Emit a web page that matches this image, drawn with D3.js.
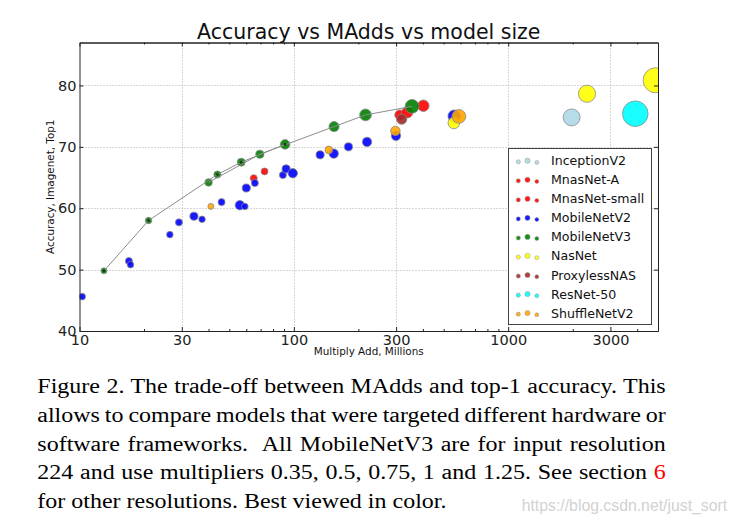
<!DOCTYPE html>
<html><head><meta charset="utf-8">
<script src="https://cdn.jsdelivr.net/npm/d3@7"></script>
<style>
body{margin:0;background:#fff;}
svg{display:block;}
</style>
</head><body>
<svg id="c" width="736" height="523"></svg>
<script>
// ---------- data ----------
const seriesNames  = ["InceptionV2","MnasNet-A","MnasNet-small","MobileNetV2","MobileNetV3","NasNet","ProxylessNAS","ResNet-50","ShuffleNetV2"];
const seriesColors = ["#add8e6","#ff0000","#ff0000","#0000ff","#008000","#ffff00","#a52a2a","#00ffff","#ffa500"];

const inceptionMadds = [1977];
const inceptionTop1  = [74.8];
const inceptionParams= [11.2];

const mnasAMadds  = [312, 338, 402];
const mnasATop1   = [75.2, 75.6, 76.7];
const mnasAParams = [3.9, 4.8, 5.2];

const mnasSmallMadds  = [65, 73];
const mnasSmallTop1   = [64.9, 66.0];
const mnasSmallParams = [1.9, 1.9];

const mbv2Madds  = [10.3, 17.0, 17.3, 26.4, 29.1, 34.2, 37.3, 46.0, 56.0, 59.1, 60.0, 65.8, 88.9, 92.0, 98.9, 132.6, 153.5, 179.8, 219.5, 299.6, 560];
const mbv2Top1   = [45.6, 51.4, 50.8, 55.7, 57.7, 58.7, 58.2, 61.0, 60.5, 60.3, 63.3, 64.1, 65.4, 66.4, 65.7, 68.7, 68.9, 70.0, 70.8, 71.8, 75.0];
const mbv2Params = [1.66, 1.95, 1.66, 1.66, 1.95, 2.61, 1.66, 1.95, 3.47, 1.66, 2.61, 1.95, 1.95, 2.61, 3.47, 2.61, 3.47, 2.61, 3.47, 3.47, 6.06];

const v3LargeMadds  = [40, 69.4, 154, 216, 356];
const v3LargeTop1   = [64.2, 68.8, 73.3, 75.2, 76.6];
const v3LargeParams = [2.2, 2.6, 4.0, 5.4, 7.5];
const v3SmallMadds  = [13, 21, 44, 56.8, 91];
const v3SmallTop1   = [49.8, 58.0, 65.5, 67.5, 70.4];
const v3SmallParams = [1.4, 1.6, 2.0, 2.5, 3.6];

const nasMadds  = [558, 2333, 4875];
const nasTop1   = [73.9, 78.65, 80.85];
const nasParams = [5.3, 11.5, 24.5];

const proxylessMadds  = [318.5];
const proxylessTop1   = [74.5];
const proxylessParams = [4.1];

const resnetMadds  = [3918];
const resnetTop1   = [75.4];
const resnetParams = [25.6];

const shuffleMadds  = [41, 145.5, 297.7, 589];
const shuffleTop1   = [60.3, 69.5, 72.6, 74.96];
const shuffleParams = [1.4, 2.3, 3.5, 7.4];

const xTickValues = [10, 30, 100, 300, 1000, 3000];
const yTickValues = [40, 50, 60, 70, 80];

const titleText  = "Accuracy vs MAdds vs model size";
const xLabelText = "Multiply Add, Millions";
const yLabelText = "Accuracy, Imagenet, Top1";

const captionLines = [
  "Figure 2. The trade-off between MAdds and top-1 accuracy. This",
  "allows to compare models that were targeted different hardware or",
  "software frameworks.  All MobileNetV3 are for input resolution",
  "224 and use multipliers 0.35, 0.5, 0.75, 1 and 1.25. See section 6",
  "for other resolutions. Best viewed in color."
];
const captionRef = "6";
const watermarkText = "https://blog.csdn.net/just_sort";

// ---------- build table ----------
function pts(m, t, p){ return m.map((d,i)=>({madds:d, top1:t[i], params:p[i]})); }
const seriesPoints = [
  pts(inceptionMadds, inceptionTop1, inceptionParams),
  pts(mnasAMadds, mnasATop1, mnasAParams),
  pts(mnasSmallMadds, mnasSmallTop1, mnasSmallParams),
  pts(mbv2Madds, mbv2Top1, mbv2Params),
  pts(v3LargeMadds.concat(v3SmallMadds), v3LargeTop1.concat(v3SmallTop1), v3LargeParams.concat(v3SmallParams)),
  pts(nasMadds, nasTop1, nasParams),
  pts(proxylessMadds, proxylessTop1, proxylessParams),
  pts(resnetMadds, resnetTop1, resnetParams),
  pts(shuffleMadds, shuffleTop1, shuffleParams)
];
const v3Large = pts(v3LargeMadds, v3LargeTop1, v3LargeParams);
const v3Small = pts(v3SmallMadds, v3SmallTop1, v3SmallParams);

// ---------- layout ----------
const L = 79.5, R = 658, T = 42.5, B = 331;
const svg = d3.select("#c");
const x = d3.scaleLog().domain([10, 5000]).range([L, R]);
const y = d3.scaleLinear().domain([40, 87]).range([B, T]);
const rScale = d3.scaleSqrt().domain([0, 25.6]).range([0, 12.8]);
const FONT = "'DejaVu Sans', sans-serif";

svg.append("defs").append("clipPath").attr("id","plotclip")
  .append("rect").attr("x", L).attr("y", T).attr("width", R-L).attr("height", B-T);

// grid
const grid = svg.append("g");
grid.selectAll("line.gx").data(xTickValues.filter(d=>d>10)).join("line")
  .attr("x1", d=>Math.round(x(d))+0.5).attr("x2", d=>Math.round(x(d))+0.5)
  .attr("y1", T).attr("y2", B)
  .attr("stroke", "#9a9a9a").attr("stroke-width", 0.8).attr("stroke-dasharray", "1,2");
grid.selectAll("line.gy").data(yTickValues.filter(d=>d>40)).join("line")
  .attr("y1", d=>Math.round(y(d))+0.5).attr("y2", d=>Math.round(y(d))+0.5)
  .attr("x1", L).attr("x2", R)
  .attr("stroke", "#9a9a9a").attr("stroke-width", 0.8).attr("stroke-dasharray", "1,2");

// markers
const plot = svg.append("g").attr("clip-path", "url(#plotclip)");
seriesPoints.forEach((arr, si) => {
  plot.append("g").selectAll("circle").data(arr).join("circle")
    .attr("cx", d=>x(d.madds)).attr("cy", d=>y(d.top1)).attr("r", d=>rScale(d.params))
    .attr("fill", seriesColors[si]).attr("fill-opacity", 0.9)
    .attr("stroke", "#8a8a8a").attr("stroke-width", 0.8);
});

// MobileNetV3 curves
const line = d3.line().x(d=>x(d.madds)).y(d=>y(d.top1));
[v3Large, v3Small].forEach(arr => {
  plot.append("path").datum(arr).attr("d", line)
    .attr("fill","none").attr("stroke","#8c8c8c").attr("stroke-width",1);
});
plot.append("g").selectAll("circle").data(v3Small).join("circle")
  .attr("cx", d=>x(d.madds)).attr("cy", d=>y(d.top1)).attr("r", 1.3)
  .attr("fill", "#111").attr("fill-opacity", 0.75);

// axes
function styleAxis(g){
  g.select(".domain").attr("stroke","#222").attr("stroke-width",1);
  g.selectAll(".tick line").attr("stroke","#222").attr("stroke-width",1);
  g.selectAll(".tick text").attr("fill","#222").style("font-family", FONT).style("font-size","14.5px");
}
const minorX = [];
[10,100,1000].forEach(dec => { for (let k=2;k<=9;k++){ const v=dec*k; if (v<5000 && !xTickValues.includes(v)) minorX.push(v);} });

const xb = svg.append("g").attr("transform",`translate(0,${B})`)
  .call(d3.axisBottom(x).tickValues(xTickValues).tickFormat(d3.format("d")).tickSizeInner(-4).tickSizeOuter(0).tickPadding(4));
styleAxis(xb);
const xbm = svg.append("g").attr("transform",`translate(0,${B})`)
  .call(d3.axisBottom(x).tickValues(minorX).tickFormat("").tickSizeInner(-2).tickSizeOuter(0));
styleAxis(xbm);
const xt = svg.append("g").attr("transform",`translate(0,${T})`)
  .call(d3.axisTop(x).tickValues(xTickValues).tickFormat("").tickSizeInner(-4).tickSizeOuter(0));
styleAxis(xt);
const xtm = svg.append("g").attr("transform",`translate(0,${T})`)
  .call(d3.axisTop(x).tickValues(minorX).tickFormat("").tickSizeInner(-2).tickSizeOuter(0));
styleAxis(xtm);
const yl = svg.append("g").attr("transform",`translate(${L},0)`)
  .call(d3.axisLeft(y).tickValues(yTickValues).tickFormat(d3.format("d")).tickSizeInner(-4).tickSizeOuter(0).tickPadding(3));
styleAxis(yl);
const yr = svg.append("g").attr("transform",`translate(${R},0)`)
  .call(d3.axisRight(y).tickValues(yTickValues).tickFormat("").tickSizeInner(-4).tickSizeOuter(0));
styleAxis(yr);

// titles
svg.append("text").attr("x", (L+R)/2).attr("y", 39.3).attr("text-anchor","middle")
  .style("font-family", FONT).style("font-size","20.5px").attr("fill","#111").text(titleText);
svg.append("text").attr("x", (L+R)/2).attr("y", 355).attr("text-anchor","middle")
  .style("font-family", FONT).style("font-size","10.4px").attr("fill","#111").text(xLabelText);
svg.append("text").attr("transform", `translate(53.5,${(T+B)/2}) rotate(-90)`).attr("text-anchor","middle")
  .style("font-family", FONT).style("font-size","10.4px").attr("fill","#111").text(yLabelText);

// legend
const lg = svg.append("g");
const rowH = 19.05, row0 = 160.7;
lg.append("rect").attr("x", 508.5).attr("y", 148.5).attr("width", 143).attr("height", 176)
  .attr("fill","#fff").attr("stroke","#444").attr("stroke-width",1);
const dotX = [518.3, 527.5, 536.8], dotDy = [1.1, 0, 1.7], dotR = [2.1, 2.6, 2.0];
seriesNames.forEach((name, i) => {
  const cy = row0 + i*rowH;
  dotX.forEach((dx, k) => {
    lg.append("circle").attr("cx", dx).attr("cy", cy + dotDy[k]).attr("r", dotR[k])
      .attr("fill", seriesColors[i]).attr("fill-opacity",0.9).attr("stroke","#999").attr("stroke-width",0.5);
  });
  lg.append("text").attr("x", 551).attr("y", cy + 4.5)
    .style("font-family", FONT).style("font-size","12.6px").attr("fill","#111").text(name);
});

// caption (justified)
const capX0 = 37.3, capX1 = 665.7, capBase0 = 393.4, capStep = 28.55;
captionLines.forEach((ln, i) => {
  const t = svg.append("text")
    .attr("transform", `translate(${capX0},${capBase0 + i*capStep}) scale(1,0.9)`)
    .style("font-family", "'Liberation Serif', 'Times New Roman', serif")
    .style("font-size", "24px").attr("fill", "#000")
    .attr("xml:space","preserve").style("white-space","pre");
  const words = ln.split(" ");
  const last = words[words.length-1];
  if (i === 3 && last === captionRef) {
    t.append("tspan").text(words.slice(0,-1).join(" ") + " ");
    t.append("tspan").attr("fill", "#ff0000").text(last);
  } else {
    t.text(ln);
  }
  if (i < captionLines.length - 1) {
    const nat = t.node().getComputedTextLength();
    const spaces = (ln.match(/ /g) || []).length;
    const ws = (capX1 - capX0 - nat) / spaces;
    t.style("word-spacing", ws + "px");
  }
});

// watermark
svg.append("text").attr("x", 521.7).attr("y", 510.5)
  .style("font-family", "'Liberation Sans', Arial, sans-serif").style("font-size","15.8px")
  .attr("fill", "#d2d2d2").text(watermarkText);
</script>
</body></html>
